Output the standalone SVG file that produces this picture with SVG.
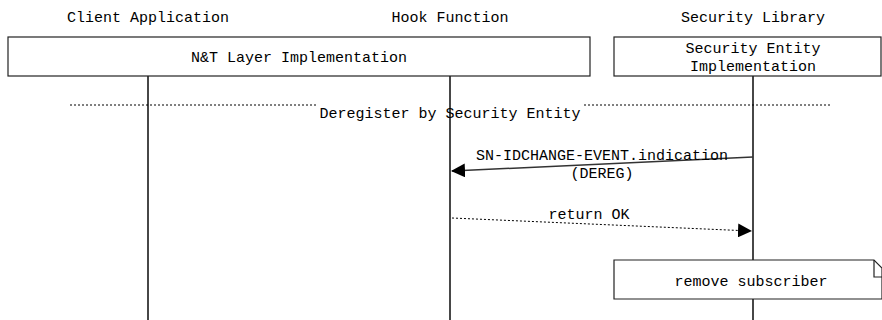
<svg xmlns="http://www.w3.org/2000/svg" width="882" height="320" viewBox="0 0 882 320">
<style>
text{font-family:"Liberation Mono","DejaVu Sans Mono",monospace;font-size:15px;fill:#000;text-anchor:middle}
.box{fill:#fff;stroke:#222;stroke-width:1.2}
.life{stroke:#333;stroke-width:1.8}
.div{stroke:#000;stroke-width:1;stroke-dasharray:2,2}
.msg{stroke:#333;stroke-width:1.5;fill:none}
.ret{stroke:#000;stroke-width:1;stroke-dasharray:2,2;fill:none}
</style>
<defs>
<marker id="ah" markerWidth="14" markerHeight="14" refX="13" refY="7" orient="auto" markerUnits="userSpaceOnUse">
<path d="M0,0 L14,7 L0,14 Z" fill="#000"/>
</marker>
</defs>
<rect width="882" height="320" fill="#fff"/>
<g id="lifelines">
<line class="life" x1="148" y1="76" x2="148" y2="320"/>
<line class="life" x1="450" y1="76" x2="450" y2="320"/>
<line class="life" x1="753" y1="76" x2="753" y2="320"/>
</g>
<g id="client"><text x="148" y="22">Client Application</text></g>
<g id="hook"><text x="450" y="22">Hook Function</text></g>
<g id="seclib"><text x="753" y="22">Security Library</text></g>
<g id="nt-layer">
<rect class="box" x="8" y="37" width="582" height="39"/>
<text x="299" y="62">N&amp;T Layer Implementation</text>
</g>
<g id="sec-entity">
<rect class="box" x="614" y="37" width="267" height="39"/>
<text x="753" y="53">Security Entity</text>
<text x="753" y="71">Implementation</text>
</g>
<g id="divider">
<line class="div" x1="70" y1="105" x2="317" y2="105"/>
<line class="div" x1="584" y1="105" x2="830" y2="105"/>
<text x="450" y="118">Deregister by Security Entity</text>
</g>
<g id="connectors">
<path class="msg" d="M753,157 L452,171" marker-end="url(#ah)"/>
<text x="602" y="160">SN-IDCHANGE-EVENT.indication</text>
<text x="602" y="178">(DEREG)</text>
<path class="ret" d="M452,218 L751,231" marker-end="url(#ah)"/>
<text x="589" y="219">return OK</text>
</g>
<g id="note">
<path class="box" d="M614,260 L874,260 L882,268 L882,299 L614,299 Z"/>
<path d="M874,260 L874,277 L882,277" fill="none" stroke="#222" stroke-width="1.2"/>
<text x="751" y="286">remove subscriber</text>
</g>
</svg>
